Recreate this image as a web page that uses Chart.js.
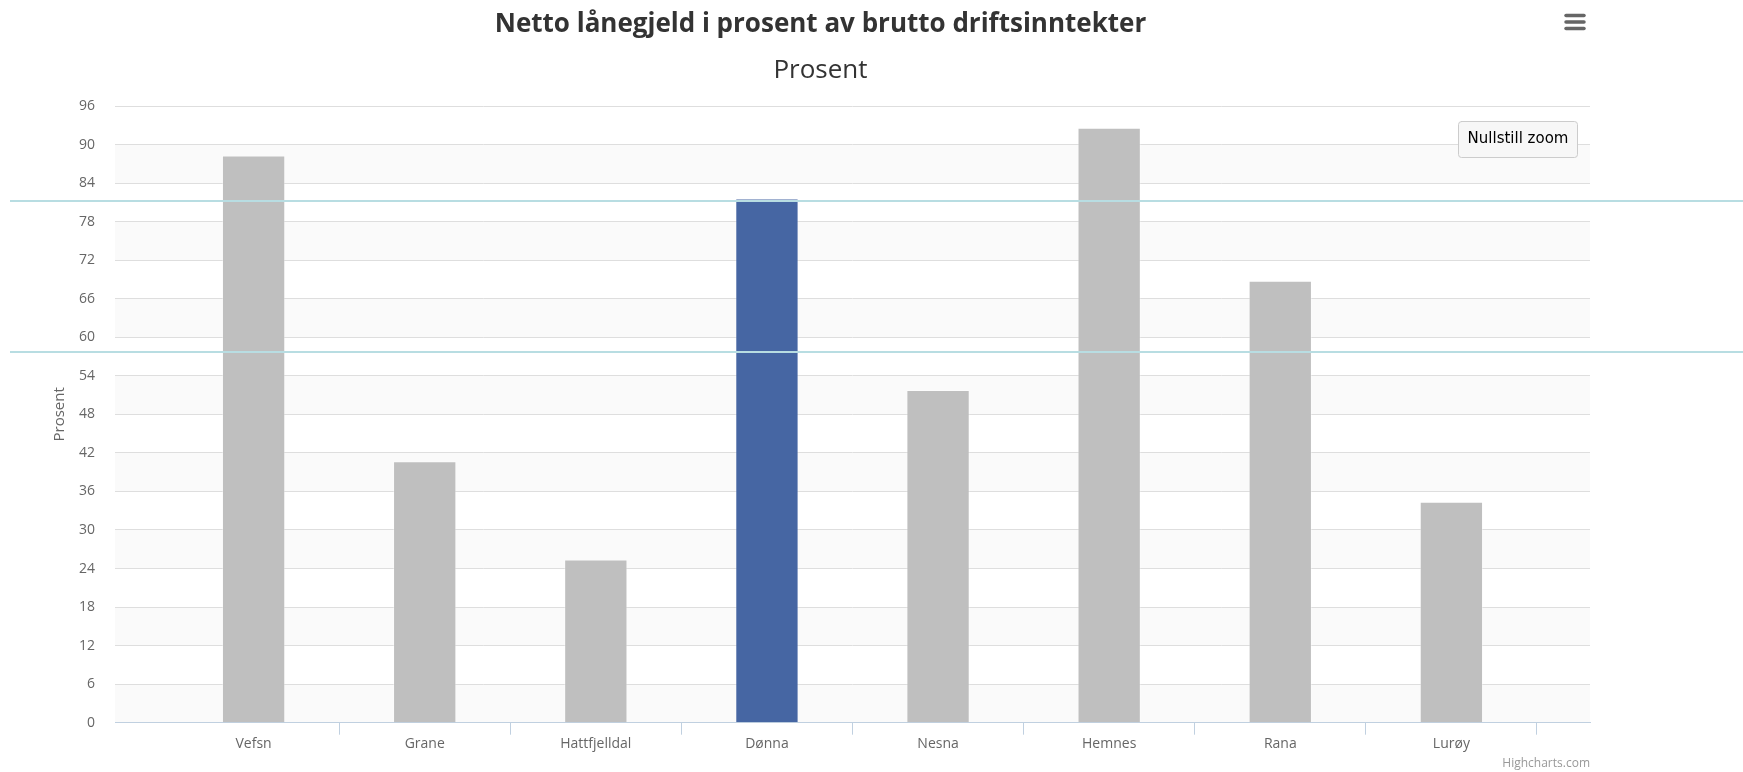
<!DOCTYPE html>
<html><head><meta charset="utf-8">
<script src="https://cdn.jsdelivr.net/npm/chart.js@4/dist/chart.umd.min.js"></script>
<style>html,body{margin:0;padding:0;background:#fff;} #wrap{width:1743px;height:772px;position:relative;}</style>
</head><body><div id="wrap"><canvas id="c" width="1743" height="772" style="width:1743px;height:772px"></canvas></div>
<script>
const categories = ['Vefsn', 'Grane', 'Hattfjelldal', 'Dønna', 'Nesna', 'Hemnes', 'Rana', 'Lurøy'];
const values = [88.3, 40.7, 25.4, 81.6, 51.8, 92.6, 68.8, 34.4];
const highlighted = 'Dønna';
const yMin = 0, yMax = 96, yStep = 6;
const xMin = -0.81, xMax = 7.81;
const markerLines = [81.25, 57.75];
const titleText = 'Netto lånegjeld i prosent av brutto driftsinntekter';
const subtitleText = 'Prosent';
const yTitleText = 'Prosent';
const buttonText = 'Nullstill zoom';
const creditText = 'Highcharts.com';

const FONT = "'Open Sans', sans-serif";

const bandsPlugin = {
  id: 'bands',
  beforeDraw(chart) {
    const {ctx, chartArea: a, scales: {y}} = chart;
    ctx.save();
    ctx.fillStyle = '#FAFAFA';
    for (let v = yMin; v < yMax; v += 2 * yStep) {
      const top = y.getPixelForValue(v + yStep), bot = y.getPixelForValue(v);
      ctx.fillRect(a.left, top, a.right - a.left, bot - top);
    }
    ctx.restore();
  }
};

const decorPlugin = {
  id: 'decor',
  afterDraw(chart) {
    const {ctx, chartArea: a, scales: {y}, width} = chart;
    ctx.save();
    // light cyan guide lines across the page
    ctx.strokeStyle = '#B8DDE2';
    ctx.lineWidth = 2;
    markerLines.forEach(v => {
      const py = Math.round(y.getPixelForValue(v));
      ctx.beginPath(); ctx.moveTo(10, py); ctx.lineTo(width, py); ctx.stroke();
    });
    // hamburger menu
    ctx.strokeStyle = '#666';
    ctx.lineWidth = 3.5;
    ctx.lineCap = 'round';
    [15.5, 22, 28.5].forEach(py => {
      ctx.beginPath(); ctx.moveTo(1566, py); ctx.lineTo(1584, py); ctx.stroke();
    });
    // reset zoom button
    const bx = 1458, by = 121, bw = 119, bh = 36;
    ctx.fillStyle = '#F7F7F7';
    ctx.strokeStyle = '#CCCCCC';
    ctx.lineWidth = 1;
    ctx.beginPath();
    ctx.roundRect(bx + 0.5, by + 0.5, bw, bh, 3);
    ctx.fill(); ctx.stroke();
    ctx.fillStyle = '#000';
    ctx.font = "15px 'DejaVu Sans', sans-serif";
    ctx.textAlign = 'center';
    ctx.textBaseline = 'middle';
    ctx.fillText(buttonText, bx + bw / 2 + 0.5, by + bh / 2 + 0.5);
    // credits
    ctx.fillStyle = '#999';
    ctx.font = "12px " + FONT;
    ctx.textAlign = 'right';
    ctx.fillText(creditText, a.right, 764);
    ctx.restore();
  }
};

new Chart(document.getElementById('c'), {
  type: 'bar',
  data: {
    labels: categories,
    datasets: [{
      data: values.map((v, i) => ({x: i, y: v})),
      backgroundColor: categories.map(c => c === highlighted ? '#4666A3' : '#BFBFBF'),
      borderColor: 'rgba(255,255,255,0.35)',
      borderWidth: 1,
      // bar ruler uses the half-category tick spacing, so this is ~0.37 of a category
      barPercentage: 0.74,
      categoryPercentage: 1
    }]
  },
  options: {
    responsive: false,
    animation: false,
    devicePixelRatio: 1,
    layout: {padding: {left: 51, right: 153, top: 0, bottom: 0}},
    plugins: {
      legend: {display: false},
      tooltip: {enabled: false},
      title: {
        display: true, text: titleText, color: '#333',
        font: {family: FONT, size: 26, weight: 'bold'},
        padding: {top: 8.5, bottom: 15}
      },
      subtitle: {
        display: true, text: subtitleText, color: '#333',
        font: {family: FONT, size: 26, weight: 'normal'},
        padding: {top: 0, bottom: 20.1}
      }
    },
    scales: {
      x: {
        type: 'linear', min: xMin, max: xMax, offset: false,
        afterBuildTicks: s => {
          const t = [];
          for (let i = 0; i < categories.length; i++) { t.push({value: i}); t.push({value: i + 0.5}); }
          s.ticks = t;
        },
        afterFit: s => { s.height = 49.3; },
        ticks: {
          autoSkip: false, maxRotation: 0, minRotation: 0, padding: 1,
          color: '#666', font: {family: FONT, size: 14},
          callback: v => Number.isInteger(v) ? categories[v] : ''
        },
        grid: {
          offset: false,
          drawOnChartArea: false, drawTicks: true, tickLength: 12, tickWidth: 1,
          tickColor: ctx => (ctx.tick && !Number.isInteger(ctx.tick.value)) ? '#C0D0E0' : 'rgba(0,0,0,0)'
        },
        border: {display: true, color: '#C0D0E0', width: 1}
      },
      y: {
        min: yMin, max: yMax,
        afterFit: s => { s.width = 64; },
        ticks: {stepSize: yStep, color: '#666', font: {family: FONT, size: 14}, padding: 20},
        grid: {color: '#DEDEDE', lineWidth: 1, drawTicks: false},
        border: {display: false},
        title: {
          display: true, text: yTitleText, color: '#666',
          font: {family: FONT, size: 15}, padding: {top: 0, bottom: 12}
        }
      }
    }
  },
  plugins: [bandsPlugin, decorPlugin]
});
</script>
</body></html>
